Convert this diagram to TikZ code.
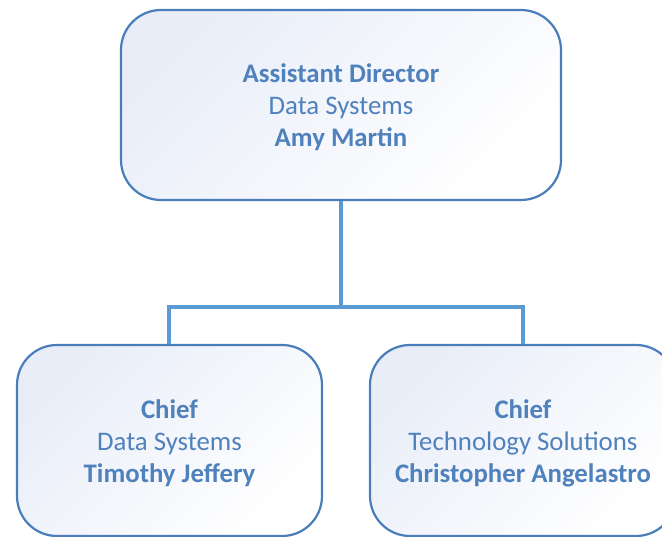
\documentclass[tikz,border=0pt]{standalone}
\usepackage{fontspec}
\setmainfont{Carlito}
\definecolor{bordc}{RGB}{74,126,187}
\definecolor{txtc}{RGB}{79,129,189}
\definecolor{linec}{RGB}{91,155,213}
\definecolor{shadec}{RGB}{232,237,248}
\tikzset{
  orgbox/.style={draw=bordc, line width=2.2pt, rounded corners=40pt,
    top color=shadec, bottom color=white, shading angle=45, inner sep=0pt},
  orgtext/.style={align=center, text=txtc, font=\fontsize{26.8}{32}\selectfont},
  link/.style={draw=linec, line width=4pt}
}
\begin{document}
\begin{tikzpicture}[x=1pt,y=-1pt]
\useasboundingbox (0,0) rectangle (662,537);
\clip (0,0) rectangle (662,537);
\path[orgbox] (121,10) rectangle (561,200);
\path[orgbox] (17,345) rectangle (322,536);
\path[orgbox] (370,345) rectangle (676,536);
\node[orgtext] (top) at (341,107) {\textbf{Assistant Director}\\Data Systems\\\textbf{Amy Martin}};
\node[orgtext] (left) at (169.5,443) {\textbf{Chief}\\Data Systems\\\textbf{Timothy Jeffery}};
\node[orgtext] (right) at (523,443) {\textbf{Chief}\\Technology Solutions\\\textbf{Christopher Angelastro}};
\coordinate (tb) at (341,201);
\coordinate (mid) at (341,307);
\coordinate (lb) at (169,344);
\coordinate (rb) at (523,344);
\draw[link] (tb) -- (mid);
\draw[link] (lb) |- (mid) -| (rb);
\end{tikzpicture}
\end{document}
